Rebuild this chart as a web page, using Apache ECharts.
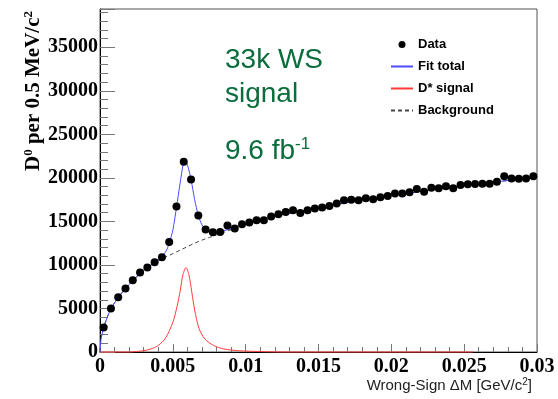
<!DOCTYPE html>
<html>
<meta charset="utf-8" />

<head>
  <script src="https://cdn.jsdelivr.net/npm/echarts@6.0.0/dist/echarts.min.js"></script>
  <style>
    html, body { margin: 0; padding: 0; background: #fff; }
    .chart { width: 558px; height: 399px; }
  </style>
</head>

<body>
  <div class="chart" id="chart-ws"></div>
  <script>
    // bin centres, GeV/c^2 (0.5 MeV bins)
    const binCenters = [
      0.00025, 0.00075, 0.00125, 0.00175, 0.00225, 0.00275, 0.00325, 0.00375, 0.00425, 0.00475,
      0.00525, 0.00575, 0.00625, 0.00675, 0.00725, 0.00775, 0.00825, 0.00875, 0.00925, 0.00975,
      0.01025, 0.01075, 0.01125, 0.01175, 0.01225, 0.01275, 0.01325, 0.01375, 0.01425, 0.01475,
      0.01525, 0.01575, 0.01625, 0.01675, 0.01725, 0.01775, 0.01825, 0.01875, 0.01925, 0.01975,
      0.02025, 0.02075, 0.02125, 0.02175, 0.02225, 0.02275, 0.02325, 0.02375, 0.02425, 0.02475,
      0.02525, 0.02575, 0.02625, 0.02675, 0.02725, 0.02775, 0.02825, 0.02875, 0.02925, 0.02975
    ];
    const dataCounts = [
      2800, 4990, 6280, 7290, 8240, 9130, 9720, 10310, 10880, 12630,
      16700, 21840, 19810, 15680, 14070, 13760, 13790, 14530, 14180, 14680,
      14870, 15140, 15140, 15560, 15810, 16080, 16290, 15980, 16290, 16480,
      16600, 16770, 17060, 17420, 17500, 17420, 17670, 17540, 17780, 17910,
      18220, 18220, 18360, 18720, 18400, 18860, 18820, 19050, 18820, 19180,
      19260, 19310, 19330, 19330, 19570, 20200, 19930, 19910, 19930, 20180
    ];

    // fit curves
    const fitX = [
      0, 0.00005, 0.0001, 0.00025, 0.0005, 0.00075, 0.001, 0.0015, 0.002, 0.0025,
      0.003, 0.0035, 0.004, 0.0045, 0.00475, 0.005, 0.00525, 0.0055, 0.0057, 0.0058,
      0.006, 0.00625, 0.0065, 0.00675, 0.007, 0.00725, 0.0075, 0.008, 0.0085, 0.009,
      0.01, 0.012, 0.015, 0.0175, 0.02, 0.0225, 0.025, 0.0275, 0.03
    ];
    const fitTotal = [
      0, 1200, 1750, 2800, 4000, 4950, 5650, 6800, 7750, 8650,
      9400, 10000, 10600, 11500, 12500, 14000, 16600, 19400, 21500, 22000,
      21500, 19800, 17500, 15700, 14600, 14100, 13850, 13800, 13950, 14150,
      14700, 15600, 16550, 17300, 17950, 18550, 19100, 19600, 20100
    ];

    const bkgX = [
      0, 0.00005, 0.0001, 0.00025, 0.0005, 0.00075, 0.001, 0.0015, 0.002, 0.0025,
      0.003, 0.0035, 0.004, 0.0045, 0.005, 0.0055, 0.006, 0.0065, 0.007, 0.0075,
      0.008, 0.009, 0.01, 0.012, 0.015, 0.0175, 0.02, 0.0225, 0.025, 0.0275, 0.03
    ];
    const bkgValues = [
      0, 1200, 1750, 2800, 4000, 4950, 5650, 6800, 7750, 8600,
      9350, 9950, 10450, 10900, 11300, 11700, 12100, 12500, 12850, 13150,
      13450, 14050, 14650, 15600, 16550, 17300, 17950, 18550, 19100, 19600, 20100
    ];

    const sigX = [
      0, 0.002, 0.0025, 0.003, 0.0035, 0.004, 0.0045, 0.005, 0.0053, 0.0055,
      0.0057, 0.0059, 0.0061, 0.0063, 0.0065, 0.0068, 0.0072, 0.0078, 0.0085, 0.0095,
      0.011, 0.013, 0.0256
    ];
    const sigValues = [
      0, 0, 60, 150, 350, 750, 1600, 3400, 5300, 7000,
      8900, 9700, 8900, 6900, 4800, 2700, 1500, 750, 350, 150,
      50, 0, 0
    ];

    const xTickLabels = ["0", "0.005", "0.01", "0.015", "0.02", "0.025", "0.03"];
    const yTickLabels = ["0", "5000", "10000", "15000", "20000", "25000", "30000", "35000"];

    const zip = (xs, ys) => xs.map((x, i) => [x, ys[i]]);

    const serifBold = { fontFamily: "Liberation Serif", fontWeight: "bold", fontSize: 20, color: "#000" };
    const green = "#0a6e3c";
    // legend entries for the fit curves: line only, no marker
    const lineOnly = (name) => ({ name, itemStyle: { opacity: 0 } });

    const myChart = echarts.init(document.getElementById("chart-ws"), null, { renderer: "canvas" });

    const option = {
      animation: false,
      grid: {
        left: 100, right: 21, top: 9, bottom: 47,
        show: true, borderColor: "#555", borderWidth: 1,
        outerBoundsMode: "none"
      },
      legend: {
        orient: "vertical",
        left: 390, top: 38,
        padding: 0,
        itemWidth: 22, itemHeight: 7, itemGap: 9,
        textStyle: { fontFamily: "Liberation Sans", fontWeight: "bold", fontSize: 13, color: "#000" },
        data: [
          { name: "Data" },
          lineOnly("Fit total"),
          lineOnly("D* signal"),
          lineOnly("Background")
        ]
      },
      xAxis: {
        type: "value",
        min: 0, max: 0.03, interval: 0.005,
        axisLine: { lineStyle: { color: "#000", width: 1 } },
        axisTick: { inside: true, length: 8, lineStyle: { color: "#777" } },
        minorTick: { show: true, splitNumber: 5, length: 5, lineStyle: { color: "#777" } },
        splitLine: { show: false },
        axisLabel: {
          ...serifBold, margin: 5,
          formatter: (v) => xTickLabels[Math.round(v / 0.005)] ?? ""
        }
      },
      yAxis: {
        type: "value",
        min: 0, max: 39400, interval: 5000,
        axisLine: { show: true, lineStyle: { color: "#000", width: 1 } },
        axisTick: { show: true, inside: true, length: 15, lineStyle: { color: "#777" } },
        minorTick: { show: true, splitNumber: 5, length: 8, lineStyle: { color: "#777" } },
        splitLine: { show: false },
        axisLabel: {
          ...serifBold, margin: 2, showMaxLabel: false,
          formatter: (v) => yTickLabels[Math.round(v / 5000)] ?? ""
        }
      },
      graphic: [
        {
          type: "text", x: 34, y: 91, rotation: Math.PI / 2,
          style: {
            text: "{b|D}{s|0}{b| per 0.5 MeV/c}{s|2}",
            align: "center", verticalAlign: "middle",
            rich: {
              b: { fontFamily: "Liberation Serif", fontWeight: "bold", fontSize: 21, lineHeight: 24, fill: "#000" },
              s: { fontFamily: "Liberation Serif", fontWeight: "bold", fontSize: 13, lineHeight: 24, verticalAlign: "top", fill: "#000" }
            }
          }
        },
        {
          type: "text", x: 532, y: 386,
          style: {
            text: "Wrong-Sign \u0394M [GeV/c{s|2}]",
            align: "right", verticalAlign: "middle",
            fontFamily: "Liberation Sans", fontSize: 15, fill: "#222",
            rich: { s: { fontFamily: "Liberation Sans", fontSize: 10, verticalAlign: "top", lineHeight: 18, fill: "#222" } }
          }
        },
        {
          type: "text", x: 225, y: 60,
          style: { text: "33k WS", fontFamily: "Liberation Sans", fontSize: 28, fill: green, verticalAlign: "middle" }
        },
        {
          type: "text", x: 225, y: 94,
          style: { text: "signal", fontFamily: "Liberation Sans", fontSize: 28, fill: green, verticalAlign: "middle" }
        },
        {
          type: "text", x: 225, y: 151,
          style: {
            text: "{m|9.6 fb}{s|-1}", verticalAlign: "middle",
            rich: {
              m: { fontFamily: "Liberation Sans", fontSize: 28, lineHeight: 30, fill: green },
              s: { fontFamily: "Liberation Sans", fontSize: 17, lineHeight: 30, verticalAlign: "top", fill: green }
            }
          }
        }
      ],
      series: [
        {
          name: "Background",
          type: "line",
          data: zip(bkgX, bkgValues),
          smooth: 0.3,
          symbol: "none",
          clip: false,
          lineStyle: { color: "#444", width: 1, type: [4, 3] },
          itemStyle: { color: "#444" },
          z: 3
        },
        {
          name: "D* signal",
          type: "line",
          data: zip(sigX, sigValues),
          smooth: 0.3,
          symbol: "none",
          clip: false,
          lineStyle: { color: "#ff3b3b", width: 1 },
          itemStyle: { color: "#ff3b3b" },
          z: 4
        },
        {
          name: "Fit total",
          type: "line",
          data: zip(fitX, fitTotal),
          smooth: 0.3,
          symbol: "none",
          clip: false,
          lineStyle: { color: "#4b4bff", width: 1 },
          itemStyle: { color: "#4b4bff" },
          z: 5
        },
        {
          name: "Data",
          type: "scatter",
          data: zip(binCenters, dataCounts),
          symbol: "circle",
          symbolSize: 8,
          itemStyle: { color: "#000", opacity: 1 },
          z: 6
        }
      ]
    };

    myChart.setOption(option);
  </script>
</body>
</html>
